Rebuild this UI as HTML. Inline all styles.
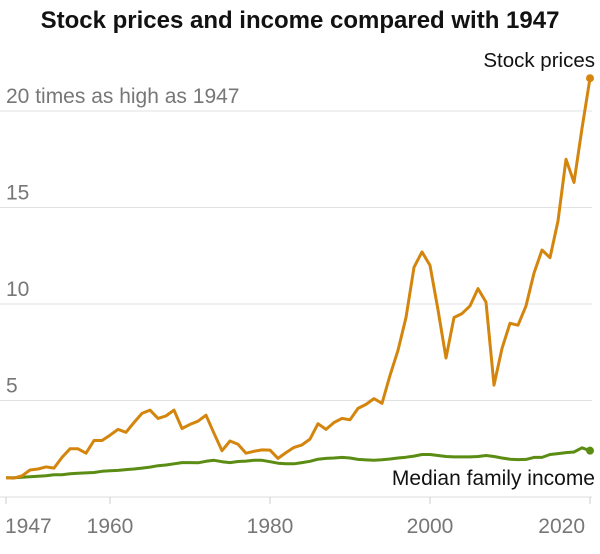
<!DOCTYPE html>
<html><head><meta charset="utf-8"><style>
body{margin:0;background:#fff;}
svg{display:block;font-family:"Liberation Sans",sans-serif;}
</style></head><body>
<svg id="chart" width="600" height="554">
<text x="300" y="28" text-anchor="middle" font-size="24" font-weight="bold" fill="#121212">Stock prices and income compared with 1947</text>
<g id="grid"></g><g id="axis"></g><g id="lines"></g>
</svg>
<script>
const years=[];for(let y=1947;y<=2020;y++)years.push(y);
const stock=[1.0,0.98,1.1,1.4,1.45,1.56,1.5,2.05,2.5,2.5,2.27,2.93,2.93,3.2,
3.5,3.35,3.86,4.33,4.5,4.07,4.2,4.5,3.55,3.76,
3.93,4.24,3.3,2.4,2.9,2.73,2.27,2.37,2.44,2.43,
2.0,2.3,2.57,2.7,3.0,3.8,3.5,3.86,4.07,4.0,
4.59,4.8,5.1,4.85,6.3,7.6,9.3,11.9,12.7,12.0,
9.7,7.2,9.3,9.5,9.9,10.8,10.1,5.8,7.7,9.0,
8.9,9.9,11.6,12.8,12.4,14.3,17.5,16.3,19.1,21.7];
const income=[1.0,1.0,1.02,1.05,1.07,1.1,1.15,1.15,1.2,1.23,1.25,1.27,1.33,1.36,
1.38,1.42,1.45,1.5,1.55,1.62,1.66,1.72,1.78,1.78,
1.77,1.85,1.9,1.83,1.78,1.84,1.86,1.9,1.9,1.83,
1.75,1.72,1.72,1.78,1.85,1.96,2.0,2.02,2.05,2.02,
1.95,1.92,1.9,1.93,1.97,2.02,2.06,2.12,2.2,2.2,
2.15,2.1,2.08,2.08,2.08,2.1,2.15,2.1,2.02,1.96,
1.94,1.95,2.05,2.05,2.2,2.25,2.3,2.33,2.55,2.4];
const yTicks=[5,10,15,20];
const yTickLabels=["5","10","15","20 times as high as 1947"];
const xTicks=[1947,1960,1980,2000,2020];
const xTickLabels=["1947","1960","1980","2000","2020"];
const NS="http://www.w3.org/2000/svg";
const X=yr=>6+(yr-1947)*8;
const Y=v=>497-v*19.3;
function mk(tag,attrs,parent,text){const e=document.createElementNS(NS,tag);for(const k in attrs)e.setAttribute(k,attrs[k]);if(text!==undefined)e.textContent=text;document.getElementById(parent).appendChild(e);return e;}
yTicks.forEach((t,i)=>{
 const l=mk('line',{x1:0,x2:592,y1:Y(t),y2:Y(t),stroke:'#e2e2e2','stroke-width':1},'grid');
 
 
 const tx=mk('text',{x:6,y:Y(t)-8,'font-size':21,fill:'#777'},'grid',yTickLabels[i]);
 
 
});
const base=mk('line',{x1:0,x2:592,y1:Y(0),y2:Y(0),stroke:'#ddd','stroke-width':1},'axis');


xTicks.forEach((t,i)=>{
 const tk=mk('line',{x1:X(t),x2:X(t),y1:Y(0),y2:Y(0)+7,stroke:'#ccc','stroke-width':1},'axis');
 
 
 const anchor=i===0?'start':(i===xTicks.length-1?'end':'middle');
 const tx=mk('text',{x:i===xTicks.length-1?X(t)-5:X(t)+(i===0?-1:0),y:533,'font-size':21,fill:'#777','text-anchor':anchor},'axis',xTickLabels[i]);
 
 
});
function series(vals,color,name){
 const d=vals.map((v,i)=>(i?'L':'M')+X(years[i]).toFixed(1)+','+Y(v).toFixed(1)).join('');
 const p=mk('path',{d:d,fill:'none',stroke:color,'stroke-width':3,'stroke-linejoin':'round'},'lines');
 
 
 const n=vals.length-1;
 const c=mk('circle',{cx:X(years[n]),cy:Y(vals[n]),r:4,fill:color},'lines');
 
 
}
series(income,'#5b8c13','income');
series(stock,'#d4850d','stock');
const l1=mk('text',{x:595,y:67,'font-size':20.5,fill:'#121212','text-anchor':'end'},'lines','Stock prices');


const l2=mk('text',{x:595,y:485,'font-size':21,fill:'#121212','text-anchor':'end'},'lines','Median family income');


</script>
</body></html>
